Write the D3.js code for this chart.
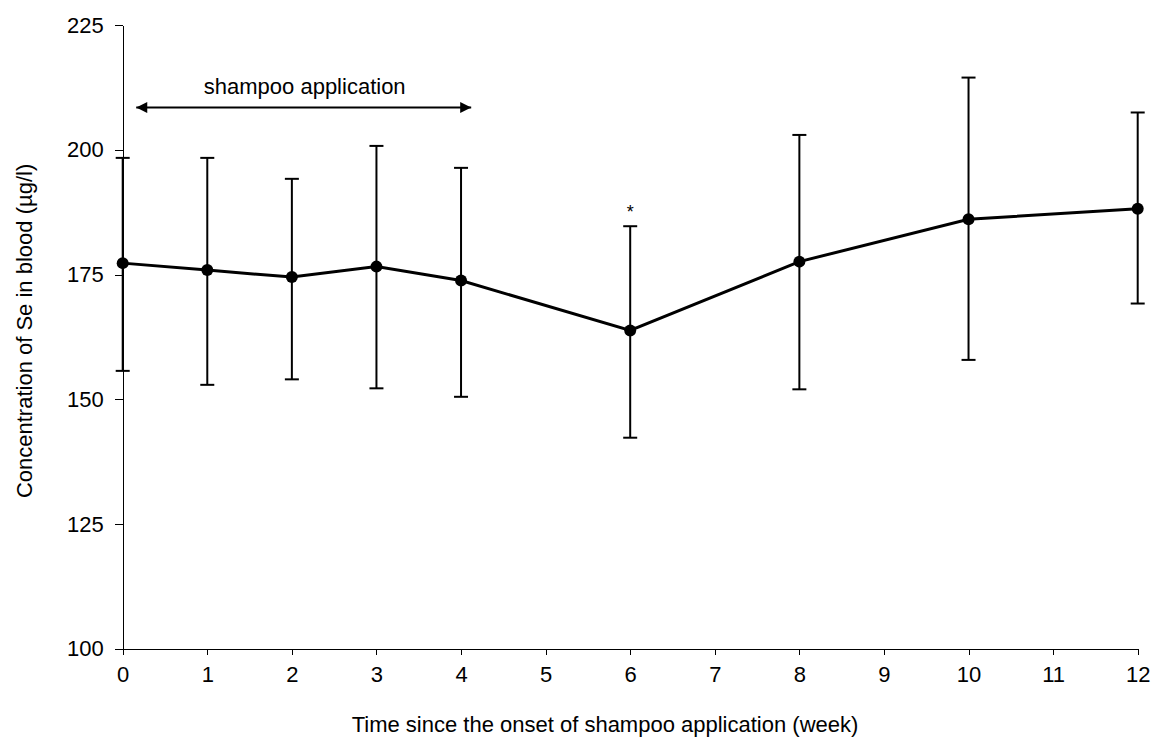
<!DOCTYPE html>
<html>
<head>
<meta charset="utf-8">
<script src="https://cdn.jsdelivr.net/npm/d3@7"></script>
<style>
  body { margin: 0; background: #fff; }
  svg { display: block; font-family: Arial, 'Liberation Sans', sans-serif; }
  .axis path, .axis line { stroke: #000; stroke-width: 1; shape-rendering: crispEdges; }
  .axis text { font-size: 22px; fill: #000; }
</style>
</head>
<body>
<svg></svg>
<script>
// weeks since onset and Se concentration in blood (µg/l)
const weeks = [0, 1, 2, 3, 4, 6, 8, 10, 12];
const means = [177.3, 175.9, 174.5, 176.6, 173.8, 163.8, 177.6, 186.1, 188.2];
const upper = [198.4, 198.4, 194.2, 200.8, 196.4, 184.7, 203.0, 214.5, 207.5];
const lower = [155.7, 152.9, 154.0, 152.2, 150.5, 142.3, 152.0, 157.9, 169.2];
const xTicks = [0, 1, 2, 3, 4, 5, 6, 7, 8, 9, 10, 11, 12];
const yTicks = [100, 125, 150, 175, 200, 225];
const significant = [6];
const applicationSpan = [0.16, 4.12];

const width = 1162;
const height = 743;

const svg = d3.select('svg')
  .attr('width', width)
  .attr('height', height);

const x = d3.scaleLinear().domain([0, 12]).range([122.7, 1137.7]);
const y = d3.scaleLinear().domain([100, 225]).range([648.7, 25.2]);

const rows = weeks.map((w, i) => ({
  week: w, mean: means[i], hi: upper[i], lo: lower[i],
}));

// axes
svg.append('g')
  .attr('class', 'axis')
  .attr('transform', `translate(0,${y(100)})`)
  .call(d3.axisBottom(x).tickValues(xTicks).tickSize(6).tickSizeOuter(0).tickPadding(12))
  .selectAll('text')
  .attr('dy', '0.71em');

svg.append('g')
  .attr('class', 'axis')
  .attr('transform', `translate(${x(0)},0)`)
  .call(d3.axisLeft(y).tickValues(yTicks).tickSize(8).tickSizeOuter(0).tickPadding(11));

// axis titles
svg.append('text')
  .attr('x', 605)
  .attr('y', 732)
  .attr('text-anchor', 'middle')
  .style('font-size', '22px')
  .text('Time since the onset of shampoo application (week)');

svg.append('text')
  .attr('transform', `translate(32,${(y(100) + y(225)) / 2 - 6}) rotate(-90)`)
  .attr('text-anchor', 'middle')
  .style('font-size', '22px')
  .text('Concentration of Se in blood (µg/l)');

// error bars
const bars = svg.append('g')
  .attr('class', 'errors')
  .attr('stroke', '#000')
  .attr('stroke-width', 2);

bars.selectAll('line.stem')
  .data(rows)
  .enter()
  .append('line')
  .attr('class', 'stem')
  .attr('x1', d => x(d.week))
  .attr('x2', d => x(d.week))
  .attr('y1', d => y(d.hi))
  .attr('y2', d => y(d.lo));

['hi', 'lo'].forEach((k) => {
  bars.selectAll(`line.cap-${k}`)
    .data(rows)
    .enter()
    .append('line')
    .attr('class', `cap-${k}`)
    .attr('x1', d => x(d.week) - 7)
    .attr('x2', d => x(d.week) + 7)
    .attr('y1', d => y(d[k]))
    .attr('y2', d => y(d[k]));
});

// mean line + markers
const line = d3.line()
  .x(d => x(d.week))
  .y(d => y(d.mean));

svg.append('path')
  .datum(rows)
  .attr('fill', 'none')
  .attr('stroke', '#000')
  .attr('stroke-width', 3)
  .attr('d', line);

svg.append('g')
  .selectAll('circle')
  .data(rows)
  .enter()
  .append('circle')
  .attr('cx', d => x(d.week))
  .attr('cy', d => y(d.mean))
  .attr('r', 6)
  .attr('fill', '#000');

// significance marks
svg.append('g')
  .selectAll('text')
  .data(rows.filter(d => significant.includes(d.week)))
  .enter()
  .append('text')
  .attr('x', d => x(d.week))
  .attr('y', d => y(d.hi) - 8)
  .attr('text-anchor', 'middle')
  .style('font-size', '18px')
  .text('*');

// shampoo application arrow
const defs = svg.append('defs');
defs.append('marker')
  .attr('id', 'head')
  .attr('viewBox', '0 0 10 10')
  .attr('refX', 10)
  .attr('refY', 5)
  .attr('markerWidth', 6.5)
  .attr('markerHeight', 5.5)
  .attr('markerUnits', 'strokeWidth')
  .attr('orient', 'auto-start-reverse')
  .append('path')
  .attr('d', 'M0,0L10,5L0,10Z')
  .attr('fill', '#000');

const arrowY = y(208.5);
svg.append('line')
  .attr('x1', x(applicationSpan[0]))
  .attr('x2', x(applicationSpan[1]))
  .attr('y1', arrowY)
  .attr('y2', arrowY)
  .attr('stroke', '#000')
  .attr('stroke-width', 2)
  .attr('marker-start', 'url(#head)')
  .attr('marker-end', 'url(#head)');

svg.append('text')
  .attr('x', x((applicationSpan[0] + applicationSpan[1]) / 2) + 1)
  .attr('y', arrowY - 14)
  .attr('text-anchor', 'middle')
  .style('font-size', '22px')
  .text('shampoo application');
</script>
</body>
</html>
